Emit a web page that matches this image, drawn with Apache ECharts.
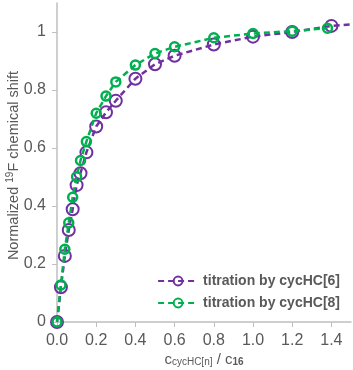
<!DOCTYPE html>
<html>
<head>
<meta charset="utf-8">
<script src="https://cdn.jsdelivr.net/npm/echarts@6/dist/echarts.min.js"></script>
<style>
  html, body { margin: 0; padding: 0; background: #fff; }
  #chart { width: 353px; height: 370px; }
</style>
</head>
<body>
<div id="chart"></div>
<script>
// titration data
const xHC6 = [0, 0.02, 0.04, 0.06, 0.08, 0.1, 0.12, 0.15, 0.2, 0.25, 0.3, 0.4, 0.5, 0.6, 0.8, 1.0, 1.2, 1.4, 1.6];
const yHC6 = [0, 0.12, 0.228, 0.317, 0.389, 0.472, 0.513, 0.585, 0.674, 0.723, 0.763, 0.839, 0.889, 0.918, 0.957, 0.984, 1.0, 1.021, 1.032];
const xHC8 = [0, 0.02, 0.04, 0.06, 0.08, 0.1, 0.12, 0.15, 0.2, 0.25, 0.3, 0.4, 0.5, 0.6, 0.8, 1.0, 1.2, 1.38];
const yHC8 = [0, 0.128, 0.251, 0.342, 0.43, 0.501, 0.557, 0.622, 0.72, 0.779, 0.828, 0.886, 0.926, 0.949, 0.98, 0.995, 1.003, 1.013];
const xTicks = [0, 0.2, 0.4, 0.6, 0.8, 1.0, 1.2, 1.4];
const yTicks = [0, 0.2, 0.4, 0.6, 0.8, 1];

const names = ['titration by cycHC[6]', 'titration by cycHC[8]'];
const purple = '#7030A0';
const green = '#00B050';

const zip = (xs, ys) => xs.map((x, i) => [x, ys[i]]);

const chart = echarts.init(document.getElementById('chart'));
chart.setOption({
  animation: false,
  backgroundColor: '#fff',
  textStyle: { fontFamily: 'Liberation Sans, Arial, sans-serif' },
  grid: { left: 57, right: 2, top: 3, bottom: 48, containLabel: false, outerBoundsMode: 'none' },
  legend: {
    orient: 'vertical',
    right: 8,
    top: 269,
    itemWidth: 40,
    itemHeight: 11,
    itemGap: 8,
    textStyle: { color: '#595959', fontSize: 14, fontWeight: 'bold' },
    data: names
  },
  xAxis: {
    type: 'value',
    min: 0,
    max: 1.5,
    interval: 0.2,
    name: '{c|c}{s|cycHC[n]}{c| / c}{b|16}',
    nameLocation: 'middle',
    nameMoveOverlap: false,
    nameGap: 28,
    nameTextStyle: {
      rich: {
        c: { fontSize: 15, color: '#595959', verticalAlign: 'bottom' },
        s: { fontSize: 10, color: '#595959', padding: [7, 0, 0, 0], verticalAlign: 'bottom' },
        b: { fontSize: 10, color: '#595959', fontWeight: 'bold', padding: [7, 0, 0, 0], verticalAlign: 'bottom' }
      }
    },
    axisLine: { lineStyle: { color: '#bfbfbf', width: 1.5 } },
    axisTick: { show: true, length: 5, lineStyle: { color: '#bfbfbf' }, customValues: xTicks },
    axisLabel: {
      customValues: xTicks,
      color: '#595959',
      fontSize: 16,
      margin: 11,
      formatter: v => v.toFixed(1)
    },
    splitLine: { show: false }
  },
  yAxis: {
    type: 'value',
    min: 0,
    max: 1.1,
    interval: 0.2,
    name: 'Normalized {sup|19}F chemical shift',
    nameLocation: 'middle',
    nameMoveOverlap: false,
    nameGap: 34,
    nameTextStyle: {
      color: '#595959',
      fontSize: 14.5,
      padding: [0, 6, 0, 0],
      rich: { sup: { fontSize: 10, color: '#595959', padding: [0, 0, 8, 0] } }
    },
    axisLine: { show: true, lineStyle: { color: '#bfbfbf', width: 1.5 } },
    axisTick: { show: true, length: 5, lineStyle: { color: '#bfbfbf' }, customValues: yTicks },
    axisLabel: {
      customValues: yTicks,
      color: '#595959',
      fontSize: 16,
      margin: 11,
      formatter: v => String(v)
    },
    splitLine: { show: false }
  },
  series: [
    {
      name: names[0],
      type: 'line',
      data: zip(xHC6, yHC6),
      symbol: 'circle',
      symbolSize: 12,
      lineStyle: { color: purple, width: 2.5, type: [6, 4] },
      itemStyle: { color: 'rgba(0,0,0,0)', borderColor: purple, borderWidth: 2 },
      z: 2
    },
    {
      name: names[1],
      type: 'line',
      data: zip(xHC8, yHC8),
      symbol: 'circle',
      symbolSize: 9,
      lineStyle: { color: green, width: 2.5, type: [6, 4] },
      itemStyle: { color: 'rgba(0,0,0,0)', borderColor: green, borderWidth: 2.5 },
      z: 3
    }
  ]
});
</script>
</body>
</html>
